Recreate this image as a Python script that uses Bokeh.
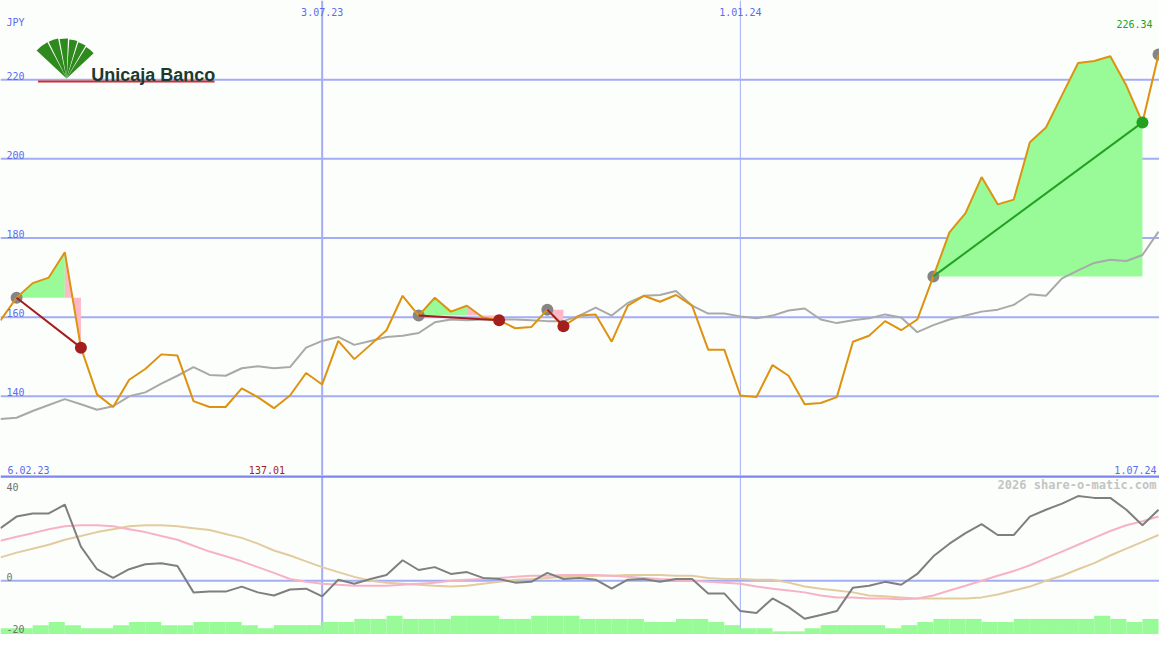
import pandas as pd
from bokeh.plotting import figure
from bokeh.layouts import column
from bokeh.models import Range1d, Span
from bokeh.core.properties import value
from bokeh.embed import file_html
from bokeh.resources import INLINE

# ---------------- data ----------------
first_week = "2023-02-13"
n_weeks = 73
currency = "JPY"

price = [159.2, 164.9, 168.6, 170.0, 176.4, 152.3, 140.5, 137.3, 144.2, 146.9,
         150.6, 150.3, 138.8, 137.3, 137.3, 142.0, 139.8, 137.01, 140.2, 145.9,
         143.0, 154.0, 149.4, 153.0, 156.7, 165.4, 160.4, 164.9, 161.4, 162.9,
         159.9, 159.2, 157.2, 157.5, 161.9, 157.7, 160.4, 160.7, 153.8, 162.9,
         165.4, 163.9, 165.6, 162.9, 151.8, 151.8, 140.2, 139.8, 147.9, 145.2,
         138.0, 138.3, 139.8, 153.8, 155.3, 159.0, 156.7, 159.4, 170.3, 181.4,
         186.3, 195.4, 188.5, 189.7, 204.2, 207.9, 216.1, 224.2, 224.7, 225.9,
         218.5, 209.2, 226.34]

index_cmp = [134.3, 134.6, 136.3, 137.8, 139.3, 138.0, 136.6, 137.5, 140.0, 141.0,
             143.2, 145.2, 147.4, 145.4, 145.2, 147.1, 147.6, 147.1, 147.4, 152.3,
             154.0, 155.0, 153.0, 154.0, 155.0, 155.3, 156.0, 158.7, 159.4, 159.2,
             159.4, 159.4, 159.4, 159.2, 159.0, 159.0, 160.4, 162.4, 160.4, 163.6,
             165.4, 165.6, 166.6, 162.9, 160.9, 160.9, 160.2, 159.7, 160.4, 161.7,
             162.2, 159.4, 158.5, 159.2, 159.7, 160.7, 159.9, 156.2, 158.0, 159.4,
             160.4, 161.4, 161.9, 163.1, 165.8, 165.4, 169.8, 171.8, 173.7, 174.5,
             174.2, 175.7, 181.6]

momentum = [20.0, 24.4, 25.6, 25.6, 28.9, 13.0, 4.4, 1.1, 4.4, 6.3,
            6.7, 5.6, -4.4, -4.1, -4.1, -2.2, -4.4, -5.6, -3.3, -3.0,
            -5.9, 0.4, -1.1, 0.7, 2.2, 7.8, 4.1, 5.2, 2.6, 3.3,
            1.1, 0.7, -0.7, -0.4, 3.0, 0.7, 1.1, 0.4, -3.0, 0.4,
            0.7, -0.4, 0.7, 0.7, -4.8, -4.8, -11.5, -12.2, -6.7, -10.0,
            -14.4, -13.0, -11.5, -2.6, -1.9, -0.4, -1.5, 2.6, 9.3, 14.1,
            18.1, 21.5, 17.4, 17.4, 24.4, 27.0, 29.3, 32.2, 31.5, 31.5,
            27.0, 21.1, 27.0]

signal_fast = [15.2, 16.7, 18.1, 19.6, 20.7, 21.1, 21.1, 20.7, 19.6, 18.5,
               17.0, 15.6, 13.3, 11.1, 9.3, 7.4, 5.2, 3.0, 0.7, -0.4,
               -1.1, -1.5, -1.9, -1.9, -1.9, -1.5, -1.1, -0.7, 0.0, 0.4,
               0.7, 1.1, 1.5, 1.9, 1.9, 2.2, 2.2, 2.2, 1.9, 1.5,
               1.1, 0.7, 0.4, 0.0, -0.4, -0.7, -1.1, -2.2, -3.0, -3.7,
               -4.4, -5.6, -6.3, -6.3, -6.7, -6.7, -7.0, -6.7, -5.6, -3.7,
               -1.9, 0.0, 1.9, 3.7, 5.9, 8.5, 11.1, 13.7, 16.3, 18.9,
               21.1, 22.6, 24.4]

signal_slow = [8.9, 10.7, 12.2, 13.7, 15.6, 17.0, 18.5, 19.6, 20.7, 21.1,
               21.1, 20.7, 20.0, 19.3, 17.8, 16.3, 14.1, 11.5, 9.6, 7.4,
               5.2, 3.3, 1.5, 0.0, -0.7, -1.1, -1.5, -1.9, -2.2, -1.9,
               -1.1, -0.4, 0.4, 0.7, 1.1, 1.5, 1.5, 1.9, 1.9, 2.2,
               2.2, 2.2, 1.9, 1.9, 1.1, 0.7, 0.7, 0.4, 0.4, -0.7,
               -2.2, -3.0, -3.7, -4.4, -5.6, -5.9, -6.3, -6.7, -6.7, -6.7,
               -6.7, -6.3, -5.2, -3.7, -2.2, 0.0, 1.9, 4.4, 6.7, 9.6,
               12.2, 14.8, 17.4]

volume = [2, 2, 3, 4, 3, 2, 2, 3, 4, 4,
          3, 3, 4, 4, 4, 3, 2, 3, 3, 3,
          4, 4, 5, 5, 6, 5, 5, 5, 6, 6,
          6, 5, 5, 6, 6, 6, 5, 5, 5, 5,
          4, 4, 5, 5, 4, 3, 2, 2, 1, 1,
          2, 3, 3, 3, 3, 2, 3, 4, 5, 5,
          5, 4, 4, 5, 5, 5, 5, 5, 6, 5,
          4, 5]

trade_entries = [1, 26, 34, 58]
trade_exits = [5, 31, 35, 71]
open_entry = 72

y_ticks = [140, 160, 180, 200, 220]
low_ticks = [40, 0, -20]
x_tick_dates = ["2023-07-03", "2024-01-01"]
x_tick_labels = ["3.07.23", "1.01.24"]
x_tick_widths = [2, 1]
range_labels = ["6.02.23", "1.07.24"]
watermark = "2026 share-o-matic.com"
brand = "Unicaja Banco"

# ---------------- styling ----------------
BG = "#fcfefc"
GRID = "#a3adf5"
SEP = "#7b86f0"
BLUE_TXT = "#5b6cf0"
ORANGE = "#dd9210"
GRAYLINE = "#a9a9a9"
GREEN_FILL = "#98fb98"
PINK_FILL = "#ffb8c8"
RED = "#a51e1e"
GREEN = "#22a022"
MARK_GRAY = "#858585"
MOM = "#7f7f7f"
SIG_FAST = "#f7b3c6"
SIG_SLOW = "#e3cba0"
MONO = value("DejaVu Sans Mono")

W = 1159
H1 = 475
H2 = 159

dates = pd.date_range(first_week, periods=n_weeks, freq="7D")
xm = [d.value / 1e6 for d in dates]
week_ms = 7 * 24 * 3600 * 1000.0
x0 = xm[0]
x1 = xm[0] + 72.06 * week_ms

p = figure(width=W, height=H1, x_range=Range1d(x0, x1), y_range=Range1d(120, 240),
           output_backend="svg", toolbar_location=None,
           x_axis_location=None, y_axis_location=None, min_border=0,
           background_fill_color=BG, border_fill_color=BG, outline_line_color=None)
p.grid.visible = False

q = figure(width=W, height=H2, x_range=p.x_range, y_range=Range1d(-20.4, 40),
           output_backend="svg", toolbar_location=None,
           x_axis_location=None, y_axis_location=None, min_border=0,
           background_fill_color=BG, border_fill_color=BG, outline_line_color=None)
q.grid.visible = False
q.extra_y_ranges = {"vol": Range1d(0, 163 / 3.2)}


def txt(fig, x, y, s, color, size="10px", align="left", dx=0, dy=0,
        style="normal", font=MONO, baseline="bottom"):
    fig.text(x=[x], y=[y], text=[s], text_color=color, text_font=font,
             text_font_size=size, text_align=align, text_baseline=baseline,
             x_offset=dx, y_offset=dy, text_font_style=style)


# grid lines
for t in y_ticks:
    p.add_layout(Span(location=t, dimension="width", line_color=GRID,
                      line_width=2, level="underlay"))
q.add_layout(Span(location=0, dimension="width", line_color=GRID,
                  line_width=2, level="underlay"))
for d, lw in zip(x_tick_dates, x_tick_widths):
    loc = pd.Timestamp(d).value / 1e6
    p.add_layout(Span(location=loc, dimension="height", line_color=GRID,
                      line_width=lw, level="underlay"))
    q.add_layout(Span(location=loc, dimension="height", line_color=GRID,
                      line_width=lw, level="underlay"))
q.add_layout(Span(location=39.7, dimension="width", line_color=SEP, line_width=3))

# trade fills: one polygon per run of equally coloured segments
fxs, fys, fcs = [], [], []
for e, x_ in zip(trade_entries, trade_exits):
    lvl = price[e]
    cols = [GREEN_FILL if price[j + 1] >= lvl else PINK_FILL for j in range(e, x_)]
    a = e
    for k in range(len(cols)):
        last = k == len(cols) - 1
        if last or cols[k + 1] != cols[k]:
            b = e + k + 1
            fxs.append([xm[a]] + xm[a:b + 1] + [xm[b]])
            fys.append([lvl] + price[a:b + 1] + [lvl])
            fcs.append(cols[k])
            a = b
p.patches(fxs, fys, fill_color=fcs, line_color=None)

# comparison line
p.line(xm, index_cmp, line_color=GRAYLINE, line_width=2)

# entry markers
ent = trade_entries + [open_entry]
p.scatter([xm[i] for i in ent], [price[i] for i in ent], size=12,
          fill_color=MARK_GRAY, line_color=None)

# price line
p.line(xm, price, line_color=ORANGE, line_width=2)

# trade lines and exit markers
seg_col = [GREEN if price[x_] >= price[e] else RED for e, x_ in zip(trade_entries, trade_exits)]
p.segment([xm[e] for e in trade_entries], [price[e] for e in trade_entries],
          [xm[x_] for x_ in trade_exits], [price[x_] for x_ in trade_exits],
          line_color=seg_col, line_width=2)
p.scatter([xm[x_] for x_ in trade_exits], [price[x_] for x_ in trade_exits], size=12,
          fill_color=seg_col, line_color=None)

# labels upper
for t in y_ticks:
    txt(p, x0, t, str(t), BLUE_TXT, dx=6, dy=0)
txt(p, x0, 240, currency, BLUE_TXT, dx=6, dy=27)
for d, lab in zip(x_tick_dates, x_tick_labels):
    txt(p, pd.Timestamp(d).value / 1e6, 240, lab, BLUE_TXT, align="center", dy=15)
txt(p, x1, 240, f"{price[-1]:.2f}", GREEN, align="right", dx=-7, dy=27)
txt(p, x0, 120, range_labels[0], BLUE_TXT, dx=7, dy=-2)
txt(p, x1, 120, range_labels[1], BLUE_TXT, align="right", dx=-3, dy=-2)
imin = min(range(n_weeks), key=lambda i: price[i])
txt(p, xm[imin], 120, f"{price[imin]:.2f}", RED, align="center", dx=-7, dy=-2)


# logo (decoration)
def px(X, Y):
    return x0 + X / 1175.0 * (x1 - x0), 240 - Y / 487.25 * 120


lx, ly = px(67, 80)
blades = [(118, 137, 41), (102, 116, 41), (88, 100, 40), (74, 86, 39), (60, 72, 38), (43, 58, 37)]
for a0, a1, r in blades:
    p.wedge(x=[lx], y=[ly], radius=r, radius_units="screen", start_angle=a0,
            end_angle=a1, start_angle_units="deg", end_angle_units="deg",
            fill_color="#2f8a1e", line_color=None)
ux0, uy = px(38, 83)
ux1, _ = px(217, 83)
p.segment([ux0], [uy], [ux1], [uy], line_color="#d42a2a", line_width=2)
bx, by = px(92, 76)
txt(p, bx, by, brand, "#1b3a2d", size="18px", style="bold",
    font=value("Liberation Sans"), baseline="alphabetic")

# lower panel
q.quad(left=xm[:-1], right=xm[1:], bottom=0, top=volume, y_range_name="vol",
       fill_color=GREEN_FILL, line_color=None)
q.line(xm, signal_slow, line_color=SIG_SLOW, line_width=2)
q.line(xm, signal_fast, line_color=SIG_FAST, line_width=2)
q.line(xm, momentum, line_color=MOM, line_width=2)
txt(q, x0, 40, str(low_ticks[0]), "#707070", dx=6, dy=15)
txt(q, x0, 0, str(low_ticks[1]), "#707070", dx=6, dy=0)
txt(q, x0, -20, str(low_ticks[2]), "#707070", dx=6, dy=-0.5)
txt(q, x1, 40, watermark, "#c4c4c4", size="12px", align="right", dx=-3, dy=16,
    style="bold")

layout = column(p, q, spacing=0)
open("out.html", "w").write(file_html(layout, INLINE))
